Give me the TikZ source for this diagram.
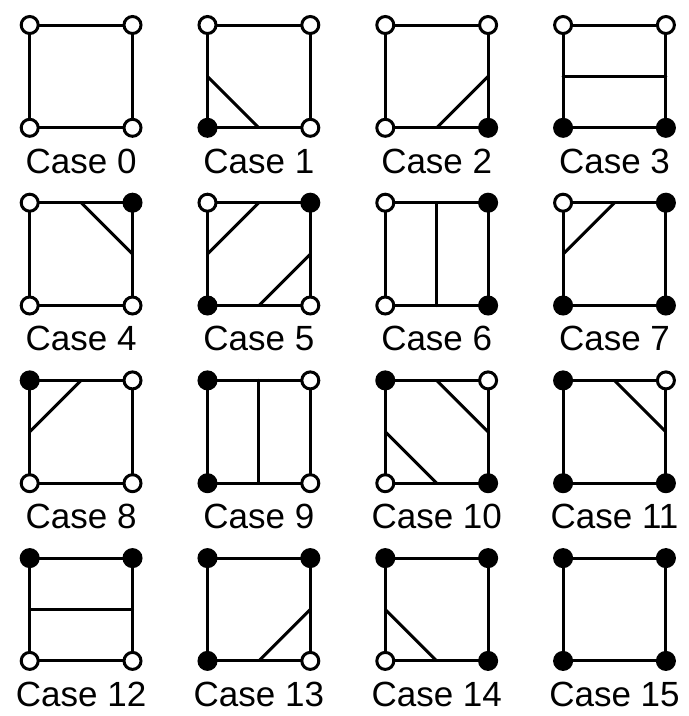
\documentclass[tikz,border=0pt]{standalone}
\usepackage{fontspec}
\setmainfont{Liberation Sans}
\tikzset{
  edge/.style={line width=3pt, line cap=round, line join=round},
  wv/.style={circle, draw, fill=white, line width=3pt, minimum size=17pt, inner sep=0pt},
  bv/.style={circle, draw, fill=black, line width=3pt, minimum size=17pt, inner sep=0pt},
  lab/.style={anchor=base, inner sep=0pt, font=\fontsize{35}{42}\selectfont}
}
% #1 case, #2 col, #3 row, #4 TL, #5 TR, #6 BR, #7 BL
\newcommand\mscase[7]{%
  \begin{scope}[shift={(29.7+177.8*#2,25+177.7*#3)}]
    \coordinate (c#1tl) at (0,0);
    \coordinate (c#1tr) at (102.8,0);
    \coordinate (c#1br) at (102.8,102.8);
    \coordinate (c#1bl) at (0,102.8);
    \coordinate (c#1T) at (51.4,0);
    \coordinate (c#1R) at (102.8,51.4);
    \coordinate (c#1B) at (51.4,102.8);
    \coordinate (c#1L) at (0,51.4);
    \draw[edge] (c#1tl) -- (c#1tr) -- (c#1br) -- (c#1bl) -- cycle;
    \node[lab] (lab#1) at (51.4,148) {Case #1};
  \end{scope}
}
\newcommand\msverts[5]{%
  \node[#2] (v#1tl) at (c#1tl) {};
  \node[#3] (v#1tr) at (c#1tr) {};
  \node[#4] (v#1br) at (c#1br) {};
  \node[#5] (v#1bl) at (c#1bl) {};
}
\begin{document}
\begin{tikzpicture}[x=1pt,y=-1pt]
\useasboundingbox (0,0) rectangle (689,716);
\mscase{0}{0}{0}{wv}{wv}{wv}{wv}
\mscase{1}{1}{0}{wv}{wv}{wv}{bv}
\mscase{2}{2}{0}{wv}{wv}{bv}{wv}
\mscase{3}{3}{0}{wv}{wv}{bv}{bv}
\mscase{4}{0}{1}{wv}{bv}{wv}{wv}
\mscase{5}{1}{1}{wv}{bv}{wv}{bv}
\mscase{6}{2}{1}{wv}{bv}{bv}{wv}
\mscase{7}{3}{1}{wv}{bv}{bv}{bv}
\mscase{8}{0}{2}{bv}{wv}{wv}{wv}
\mscase{9}{1}{2}{bv}{wv}{wv}{bv}
\mscase{10}{2}{2}{bv}{wv}{bv}{wv}
\mscase{11}{3}{2}{bv}{wv}{bv}{bv}
\mscase{12}{0}{3}{bv}{bv}{wv}{wv}
\mscase{13}{1}{3}{bv}{bv}{wv}{bv}
\mscase{14}{2}{3}{bv}{bv}{bv}{wv}
\mscase{15}{3}{3}{bv}{bv}{bv}{bv}
% contour segments
\draw[edge] (c1L) -- (c1B);
\draw[edge] (c2B) -- (c2R);
\draw[edge] (c3L) -- (c3R);
\draw[edge] (c4T) -- (c4R);
\draw[edge] (c5T) -- (c5L);
\draw[edge] (c5B) -- (c5R);
\draw[edge] (c6T) -- (c6B);
\draw[edge] (c7T) -- (c7L);
\draw[edge] (c8T) -- (c8L);
\draw[edge] (c9T) -- (c9B);
\draw[edge] (c10T) -- (c10R);
\draw[edge] (c10L) -- (c10B);
\draw[edge] (c11T) -- (c11R);
\draw[edge] (c12L) -- (c12R);
\draw[edge] (c13B) -- (c13R);
\draw[edge] (c14L) -- (c14B);
% vertices
\msverts{0}{wv}{wv}{wv}{wv}
\msverts{1}{wv}{wv}{wv}{bv}
\msverts{2}{wv}{wv}{bv}{wv}
\msverts{3}{wv}{wv}{bv}{bv}
\msverts{4}{wv}{bv}{wv}{wv}
\msverts{5}{wv}{bv}{wv}{bv}
\msverts{6}{wv}{bv}{bv}{wv}
\msverts{7}{wv}{bv}{bv}{bv}
\msverts{8}{bv}{wv}{wv}{wv}
\msverts{9}{bv}{wv}{wv}{bv}
\msverts{10}{bv}{wv}{bv}{wv}
\msverts{11}{bv}{wv}{bv}{bv}
\msverts{12}{bv}{bv}{wv}{wv}
\msverts{13}{bv}{bv}{wv}{bv}
\msverts{14}{bv}{bv}{bv}{wv}
\msverts{15}{bv}{bv}{bv}{bv}
\end{tikzpicture}
\end{document}
